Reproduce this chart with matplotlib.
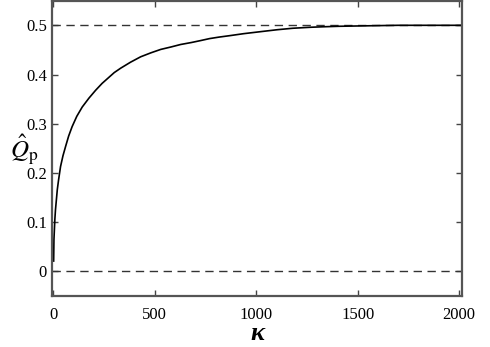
import matplotlib
matplotlib.use("Agg")
import matplotlib.pyplot as plt

plt.rcParams['font.family'] = ['Liberation Serif', 'DejaVu Serif']
plt.rcParams['mathtext.fontset'] = 'stix'

# values
kappa = [1, 2.5, 7, 10, 19, 25, 35, 47, 60, 75, 92, 115, 142, 175, 208, 240, 270,
         300, 332, 380, 430, 480, 529, 580, 627, 680, 726, 770, 816, 870, 938,
         1020, 1103, 1180, 1267, 1330, 1406, 1550, 1700, 1850, 2015]
q_hat = [0.021, 0.065, 0.106, 0.125, 0.166, 0.185, 0.213, 0.235, 0.254, 0.275,
         0.294, 0.315, 0.334, 0.352, 0.368, 0.382, 0.393, 0.404, 0.413, 0.425,
         0.436, 0.444, 0.451, 0.456, 0.461, 0.465, 0.469, 0.473, 0.476, 0.479,
         0.483, 0.487, 0.491, 0.494, 0.496, 0.497, 0.498, 0.499, 0.5, 0.5, 0.5]
limits = [0, 0.5]
xticks = [0, 500, 1000, 1500, 2000]
yticks = [0, 0.1, 0.2, 0.3, 0.4, 0.5]
ytick_labels = ['0', '0.1', '0.2', '0.3', '0.4', '0.5']

fig = plt.figure(figsize=(4.9, 3.47), dpi=100)
ax = fig.add_axes([0.107, 0.147, 0.836, 0.851])

for lv in limits:
    ax.axhline(lv, color='#333333', lw=1.0, ls=(0, (6, 4)))
ax.plot(kappa, q_hat, color='black', lw=1.2)

ax.set_xlim(-5, 2015)
ax.set_ylim(-0.05, 0.55)
ax.set_xticks(xticks)
ax.set_yticks(yticks)
ax.set_yticklabels(ytick_labels)
ax.tick_params(direction='in', length=4, width=1, top=True, right=True,
               labelsize=12, color='#444444')
ax.tick_params(axis='x', pad=8)
ax.tick_params(axis='y', pad=4)
for s in ax.spines.values():
    s.set_color('#555555')
    s.set_linewidth(1.6)

ax.set_xlabel('κ', fontsize=19, fontstyle='italic', fontweight='bold')
ax.xaxis.set_label_coords(0.5, -0.127)
ax.xaxis.label.set_va('center')
ax.set_ylabel(r'$\hat{Q}_{\mathrm{p}}$', fontsize=18, rotation=0,
              va='center', ha='center')
ax.yaxis.set_label_coords(-0.068, 0.495)

fig.savefig('out.png', dpi=100)
